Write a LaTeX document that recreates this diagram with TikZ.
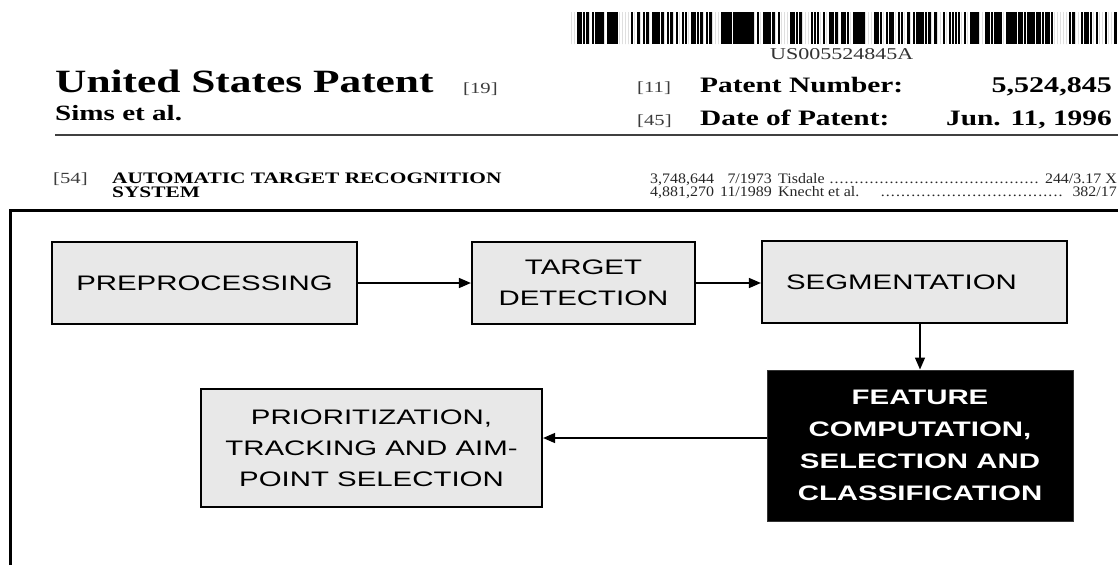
\documentclass[tikz,border=0pt]{standalone}
\usepackage{fontspec}
\setmainfont{Liberation Serif}[FakeStretch=1.335]
\newfontfamily\citefont{Liberation Serif}[FakeStretch=1.1]
\newfontfamily\boxfont{Liberation Sans}[FakeStretch=1.4]
\usetikzlibrary{arrows.meta,calc}
\definecolor{boxgray}{HTML}{E8E8E8}
\definecolor{taggray}{HTML}{3C3C3C}
\newcommand\leaderdots[1]{\makebox[#1pt]{\xleaders\hbox to 5pt{\hss.\hss}\hfill}}

\begin{document}
\begin{tikzpicture}[x=1pt,y=-1pt,
  hdr/.style={inner sep=0pt,font=\bfseries\fontsize{#1}{#1}\selectfont},
  tag/.style={inner sep=0pt,text=taggray,font=\fontsize{15.5}{16}\selectfont},
  cite/.style={inner sep=0pt,text=black!85,font=\citefont\fontsize{14.5}{15}\selectfont},
  block/.style={draw,line width=2.2pt,fill=boxgray,inner sep=0pt,align=center,font=\boxfont\fontsize{21}{31}\selectfont},
  darkblock/.style={block,draw=black!80,line width=1pt,fill=black,text=white,font=\boxfont\bfseries\fontsize{21}{32}\selectfont},
  flow/.style={line width=1.5pt,-{Triangle[length=12pt,width=10pt]}}]
\useasboundingbox (0,0) rectangle (1118,565);
% barcode
\pgfmathsetseed{42}
\foreach \i in {0,...,181}{
  \pgfmathsetmacro\w{ifthenelse(rnd<0.3,0,ifthenelse(rnd<0.5,2.6,1.5))}
  \fill (571+\i*3,12) rectangle ++(\w,32);
}
\node[tag,text=black!80,anchor=base west] (code) at (770,59) {\fontsize{16.5}{17}\selectfont US005524845A};
% header
\node[hdr=32.5,anchor=base west] (title) at (55,92.5) {United States Patent};
\node[tag,anchor=base west] (t19) at (463,93) {[19]};
\node[hdr=21.8,anchor=base west] (inv) at (55,120) {Sims et al.};
\node[tag,anchor=base west] (t11) at (637,92) {[11]};
\node[hdr=22,anchor=base west] (pnl) at (700,92) {Patent Number:};
\node[hdr=22.5,anchor=base east] (pn) at (1112,92) {5,524,845};
\node[tag,anchor=base west] (t45) at (637,125) {[45]};
\node[hdr=22,anchor=base west] (pdl) at (700,125) {Date of Patent:};
\node[hdr=22,anchor=base east] (pd) at (1112,125) {Jun. 11, 1996};
\draw[line width=1.5pt,black!75] (55,135) -- (1118,135);
\node[tag,anchor=base west] (t54) at (53,183) {[54]};
\node[hdr=16,anchor=base west] (ttl1) at (112,183) {AUTOMATIC TARGET RECOGNITION};
\node[hdr=16,anchor=base west] (ttl2) at (112,197) {SYSTEM};
% references cited
\foreach \y/\num/\dt/\who/\cls/\dx/\dl in {183.5/3{,}748{,}644/7\slash 1973/Tisdale/244\slash 3.17 X/829/210,
                                          196.5/4{,}881{,}270/11\slash 1989/Knecht et al./382\slash 17/880/183}{
  \node[cite,anchor=base west] at (650,\y) {\num};
  \node[cite,anchor=base east] at (772,\y) {\dt};
  \node[cite,anchor=base west] at (778,\y) {\who};
  \node[cite,anchor=base west] at (\dx,\y) {\leaderdots{\dl}};
  \node[cite,anchor=base east] at (1117,\y) {\cls};
}
% frame
\draw[line width=3pt] (10,565) -- (10,210) -- (1118,210);
% blocks
\node[block,minimum width=305pt,minimum height=82pt] (prep) at (204.5,283) {PREPROCESSING};
\node[block,minimum width=223pt,minimum height=82pt] (targ) at (583.5,283) {TARGET\\DETECTION};
\node[block,minimum width=305pt,minimum height=82pt] (seg) at (914.5,282) {SEGMENTATION\hspace*{26pt}};
\node[darkblock,minimum width=306pt,minimum height=151pt] (feat) at (920,445.5) {FEATURE\\COMPUTATION,\\SELECTION AND\\CLASSIFICATION};
\node[block,minimum width=341pt,minimum height=118pt] (prio) at (371.5,448) {PRIORITIZATION,\\TRACKING AND AIM-\\POINT SELECTION};
% arrows
\draw[flow] (prep) -- (targ);
\draw[flow] (targ.east) -- (targ.east -| seg.west);
\draw[flow] (seg.south -| feat.north) -- (feat.north);
\coordinate (fw) at ([yshift=7.5pt]feat.west);
\draw[flow] (fw) -- (fw -| prio.east);
\end{tikzpicture}
\end{document}
